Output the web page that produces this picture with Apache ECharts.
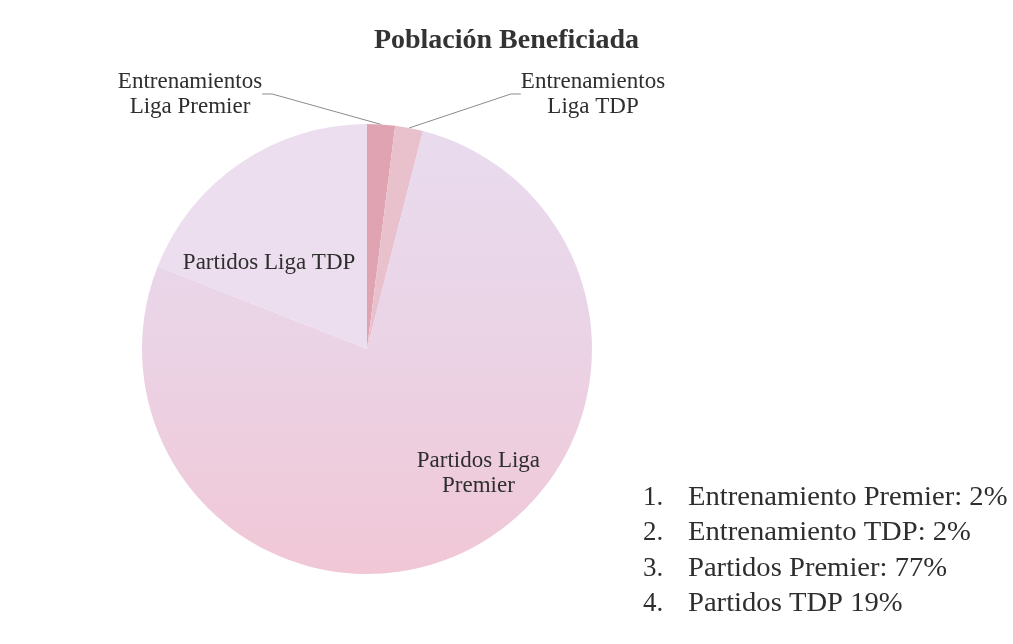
<!DOCTYPE html>
<html>
<head>
<meta charset="utf-8">
<script src="https://cdn.jsdelivr.net/npm/echarts@6/dist/echarts.min.js"></script>
<style>
  html, body { margin: 0; padding: 0; background: #fff; }
  #d1 { width: 1013px; height: 644px; }
</style>
</head>
<body>
<div id="d1"></div>
<script>
var myChart = echarts.init(document.getElementById('d1'));

var names = ['Entrenamientos\nLiga Premier', 'Entrenamientos\nLiga TDP', 'Partidos Liga\nPremier', 'Partidos Liga TDP'];
var values = [2, 2, 77, 19];
var listNames = ['Entrenamiento Premier: ', 'Entrenamiento TDP: ', 'Partidos Premier: ', 'Partidos TDP '];
var colors = ['#e0a3b1', '#e9c1cd', '#ead3e6', '#ecdeee'];

var serif = "'Liberation Serif', 'Times New Roman', serif";

var pieData = [];
for (i = 0; i < values.length; i++) {
    var item = { value: values[i], name: names[i], itemStyle: { color: colors[i] } };
    if (i >= 2) {
        item.label = { position: 'inside' };
    }
    pieData.push(item);
}
// lavender on top, pink at the bottom like the scan
pieData[2].itemStyle.color = new echarts.graphic.LinearGradient(0, 0, 0, 1, [
    { offset: 0, color: '#e9dbee' },
    { offset: 0.45, color: '#eaD4e6' },
    { offset: 1, color: '#f1c7d6' }
]);

// numbered list at the lower right
var list = [];
for (i = 0; i < values.length; i++) {
    list.push({
        type: 'text', left: 643, top: 484 + i * 35.5,
        style: { text: (i + 1) + '.', font: '27px ' + serif, fill: '#2e2e2e' }
    });
    list.push({
        type: 'text', left: 688, top: 484 + i * 35.5, scaleX: 1.06,
        style: { text: listNames[i] + values[i] + '%', font: '27px ' + serif, fill: '#2e2e2e' }
    });
}

var option = {
    backgroundColor: '#fff',
    title: {
        text: 'Población Beneficiada',
        left: 'center',
        top: 22,
        textStyle: { fontFamily: serif, fontSize: 28, fontWeight: 'bold', color: '#333' }
    },
    graphic: list,
    series: [{
        type: 'pie',
        center: [367, 349],
        radius: 225,
        startAngle: 90,
        clockwise: true,
        data: pieData,
        itemStyle: { borderWidth: 0 },
        label: {
            fontFamily: serif,
            fontSize: 23,
            lineHeight: 25,
            color: '#2e2e2e',
            align: 'center'
        },
        labelLine: {
            show: true,
            length: 10,
            length2: 10,
            lineStyle: { color: '#8c8c8c', width: 1 }
        },
        labelLayout: function (params) {
            if (params.dataIndex === 0) {
                return { x: 190, y: 94, align: 'center', verticalAlign: 'middle' };
            }
            if (params.dataIndex === 1) {
                return { x: 593, y: 94, align: 'center', verticalAlign: 'middle' };
            }
            if (params.dataIndex === 2) {
                return { dx: 59, dy: 22 };
            }
            return { dx: -33, dy: 9 };
        },
        emphasis: { disabled: true }
    }]
};

myChart.setOption(option);
</script>
</body>
</html>
